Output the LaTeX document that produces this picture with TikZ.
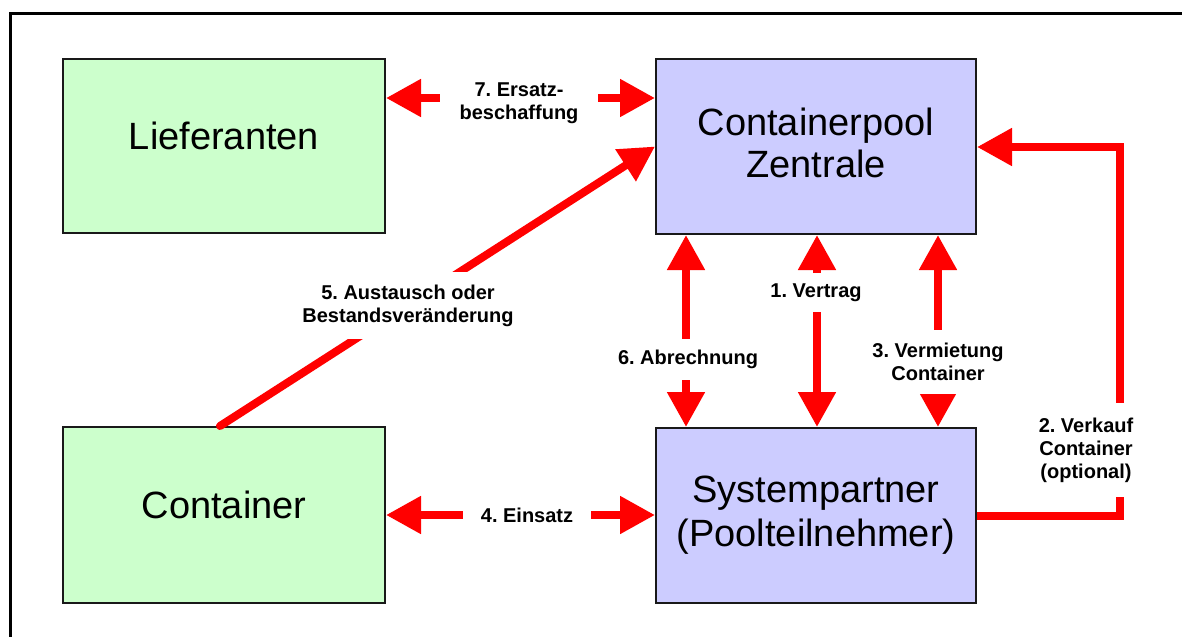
\documentclass[tikz,border=0pt]{standalone}
\usepackage{fontspec}
\setmainfont{Liberation Sans}
\usetikzlibrary{arrows.meta}
\definecolor{boxgreen}{HTML}{CCFFCC}
\definecolor{boxblue}{HTML}{CCCCFF}
\definecolor{arrred}{HTML}{FF0000}
\frenchspacing
\begin{document}
\begin{tikzpicture}[x=1pt,y=-1pt,
  box/.style={draw=black!90, line width=2pt, minimum width=320pt, minimum height=175pt,
    inner sep=0pt, align=center, font=\fontsize{38}{44}\selectfont},
  conn/.style={draw=arrred, line width=8pt},
  tip/.style={-{Triangle[width=36pt,length=35pt]}},
  both/.style={{Triangle[width=36pt,length=35pt]}-{Triangle[width=36pt,length=35pt]}},
  lab/.style={fill=white, font=\bfseries\fontsize{20}{23}\selectfont, align=center, inner sep=0pt}
]
\useasboundingbox (0,0) rectangle (1182,637);
\fill[white] (0,0) rectangle (1182,637);
\draw[line width=3pt] (1182,13) -- (10,13) -- (10,637);

\node[box, fill=boxgreen, minimum width=322pt, minimum height=174pt] (lief) at (224,146) {\raisebox{20pt}{Lieferanten}};
\node[box, fill=boxblue] (zen) at (816,146.5) {\raisebox{7pt}{\shortstack{Containerpool\\[4pt]Zentrale}}};
\node[box, fill=boxgreen, minimum width=322pt, minimum height=176pt] (cont) at (224,515) {\raisebox{20pt}{Container}};
\node[box, fill=boxblue] (sys) at (816,515.5) {Systempartner\\(Poolteilnehmer)};

\coordinate (h7) at (0,98);
\coordinate (h4) at (0,515);
\coordinate (v6) at (686,0);
\coordinate (v1) at (817,0);
\coordinate (v3) at (938,0);
\coordinate (h2a) at (0,516);
\coordinate (h2b) at (0,147);
\coordinate (x2) at (1120,0);
\coordinate (c5) at (220,0);

\draw[conn,both] (lief.east |- h7) -- (zen.west |- h7);
\draw[conn,both] (cont.east |- h4) -- (sys.west |- h4);
\draw[conn,both] (v6 |- zen.south) -- (v6 |- sys.north);
\draw[conn,both] (v1 |- zen.south) -- (v1 |- sys.north);
\draw[conn,both] (v3 |- zen.south) -- (v3 |- sys.north);
\draw[conn,tip] (sys.east |- h2a) -- (x2 |- h2a) -- (x2 |- h2b) -- (zen.east |- h2b);
\draw[conn,tip,line cap=round] (c5 |- cont.north) -- (zen.west);

\node[lab, minimum width=158pt, minimum height=44pt] (l7) at (519,103) {7. Ersatz-\\beschaffung};
\node[lab, minimum width=128pt, minimum height=30pt] (l4) at (527,515) {4. Einsatz};
\node[lab, minimum height=41pt] (l6) at (688,359.5) {6. Abrechnung};
\node[lab, minimum height=39pt] (l1) at (816,292.5) {1. Vertrag};
\node[lab, minimum height=64pt] (l3) at (938,362) {3. Vermietung\\Container};
\node[lab, minimum height=94pt] (l2) at (1086,450) {2. Verkauf\\Container\\(optional)};
\node[lab, minimum height=67pt, minimum width=222pt] (l5) at (408,305.5) {5. Austausch oder\\Bestandsveränderung};
\end{tikzpicture}
\end{document}
